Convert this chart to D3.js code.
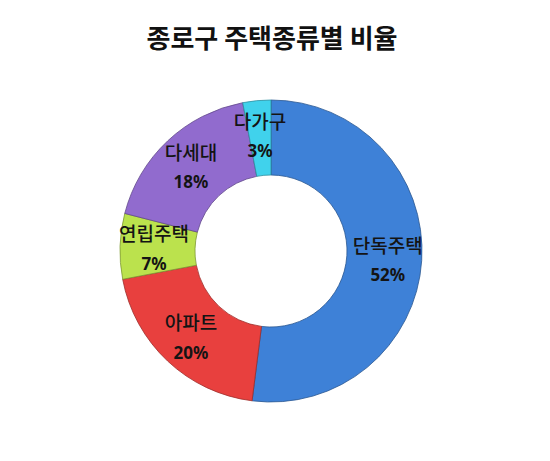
<!DOCTYPE html>
<html>
<head>
<meta charset="utf-8">
<script src="https://cdn.jsdelivr.net/npm/d3@7"></script>
<style>
  html, body { margin: 0; padding: 0; background: #fff; }
</style>
</head>
<body>
<script>
const width = 550;
const height = 461;

const title = "종로구 주택종류별 비율";
const categories = ["단독주택", "아파트", "연립주택", "다세대", "다가구"];
const shares = [52, 20, 7, 18, 3];
const colors = ["#3a78c8", "#d83c3a", "#aed248", "#8764c0", "#3cc4dc"];

const center = { x: 271, y: 251 };
const outerR = 151;
const innerR = 76;
const labelR = 117;

const svg = d3.select("body")
  .append("svg")
  .attr("width", width)
  .attr("height", height)
  .attr("viewBox", `0 0 ${width} ${height}`);

svg.append("text")
  .attr("x", 272)
  .attr("y", 48)
  .attr("text-anchor", "middle")
  .attr("fill", "#111")
  .attr("font-family", "'Noto Sans CJK KR', 'Noto Sans', sans-serif")
  .attr("font-size", 26)
  .attr("font-weight", 700)
  .text(title);

const data = categories.map((name, i) => ({ name, value: shares[i], color: colors[i] }));

const pie = d3.pie()
  .value((d) => d.value)
  .sort(null);

const arcs = pie(data);

const arc = d3.arc().innerRadius(innerR).outerRadius(outerR);
const labelArc = d3.arc().innerRadius(labelR).outerRadius(labelR);

// soft bevel: lighter rim on inner and outer edge
const defs = svg.append("defs");
data.forEach((d, i) => {
  const g = defs.append("radialGradient")
    .attr("id", `grad${i}`)
    .attr("gradientUnits", "userSpaceOnUse")
    .attr("cx", center.x)
    .attr("cy", center.y)
    .attr("r", outerR);
  const c = d3.color(d.color);
  g.append("stop").attr("offset", innerR / outerR).attr("stop-color", c.brighter(0.35).formatHex());
  g.append("stop").attr("offset", (innerR + 6) / outerR).attr("stop-color", c.formatHex());
  g.append("stop").attr("offset", (outerR - 6) / outerR).attr("stop-color", c.formatHex());
  g.append("stop").attr("offset", 1).attr("stop-color", c.brighter(0.2).formatHex());
});

const chart = svg.append("g")
  .attr("transform", `translate(${center.x},${center.y})`);

chart.selectAll("path.slice")
  .data(arcs)
  .join("path")
  .attr("class", "slice")
  .attr("d", arc)
  .attr("fill", (d, i) => `url(#grad${i})`)
  .attr("stroke", (d) => d3.color(d.data.color).darker(0.9).formatHex())
  .attr("stroke-width", 0.8);

const labels = chart.selectAll("g.label")
  .data(arcs)
  .join("g")
  .attr("class", "label")
  .attr("transform", (d) => `translate(${labelArc.centroid(d)})`);

labels.append("text")
  .attr("y", -11)
  .attr("text-anchor", "middle")
  .attr("dominant-baseline", "middle")
  .attr("fill", "#141414")
  .attr("font-family", "'Noto Sans CJK KR', sans-serif")
  .attr("font-size", 19)
  .attr("font-weight", 500)
  .text((d) => d.data.name);

labels.append("text")
  .attr("y", 18)
  .attr("text-anchor", "middle")
  .attr("dominant-baseline", "middle")
  .attr("fill", "#141414")
  .attr("font-family", "'Noto Sans', 'DejaVu Sans', sans-serif")
  .attr("font-size", 17)
  .attr("font-weight", 700)
  .text((d) => `${d.data.value}%`);
</script>
</body>
</html>
